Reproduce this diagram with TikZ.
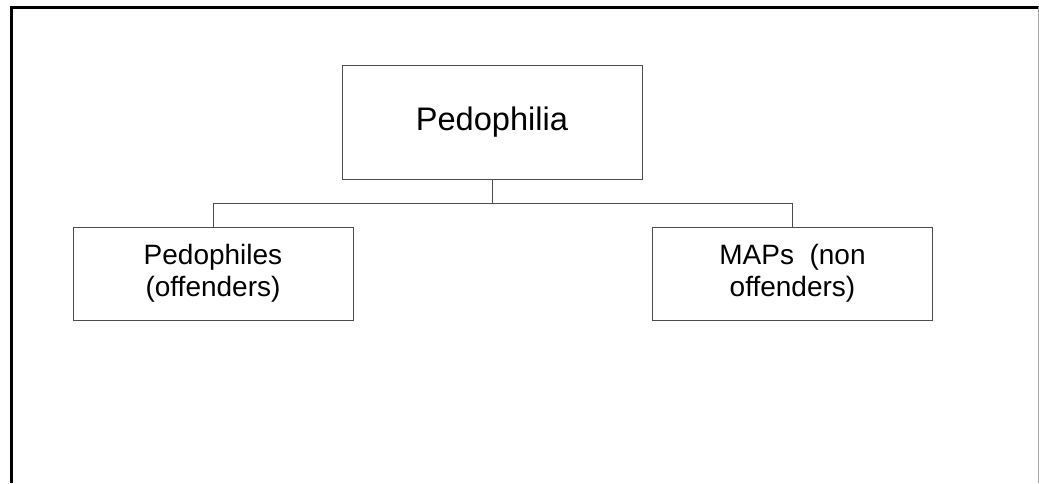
\documentclass[tikz,border=0pt]{standalone}
\usepackage{fontspec}
\setmainfont{Liberation Sans}
\usetikzlibrary{positioning}
\tikzset{%
	topbox/.style   = {draw=black!70, line width=1pt, rectangle, minimum width=300pt, minimum height=114pt, text centered, font=\fontsize{32.6}{36}\selectfont},
	childbox/.style = {draw=black!70, line width=1pt, rectangle, minimum width=280pt, minimum height=93pt, text centered, align=center, font=\fontsize{28}{32}\selectfont},
	link/.style     = {draw=black!70, line width=1pt},
}
\begin{document}
\begin{tikzpicture}[x=1pt,y=-1pt]
	\useasboundingbox (0,0) rectangle (1039,483);
	\draw[line width=3pt] (11,483) -- (11,7) -- (1039,7); % frame
	\draw[black!35, line width=1pt] (1038,7) -- (1038,483);
	\node[topbox] (root) at (492,122) {Pedophilia};
	\node[childbox] (offend) at (213,273.5) {Pedophiles\\(offenders)};
	\node[childbox] (nonoffend) at (792.5,273.5) {MAPs~~(non\\offenders)};
	\draw[link] (root.south) -- ++(0,24) coordinate (bus);
	\draw[link] (bus) -| (offend.north);
	\draw[link] (bus) -| (nonoffend.north);
\end{tikzpicture}
\end{document}
